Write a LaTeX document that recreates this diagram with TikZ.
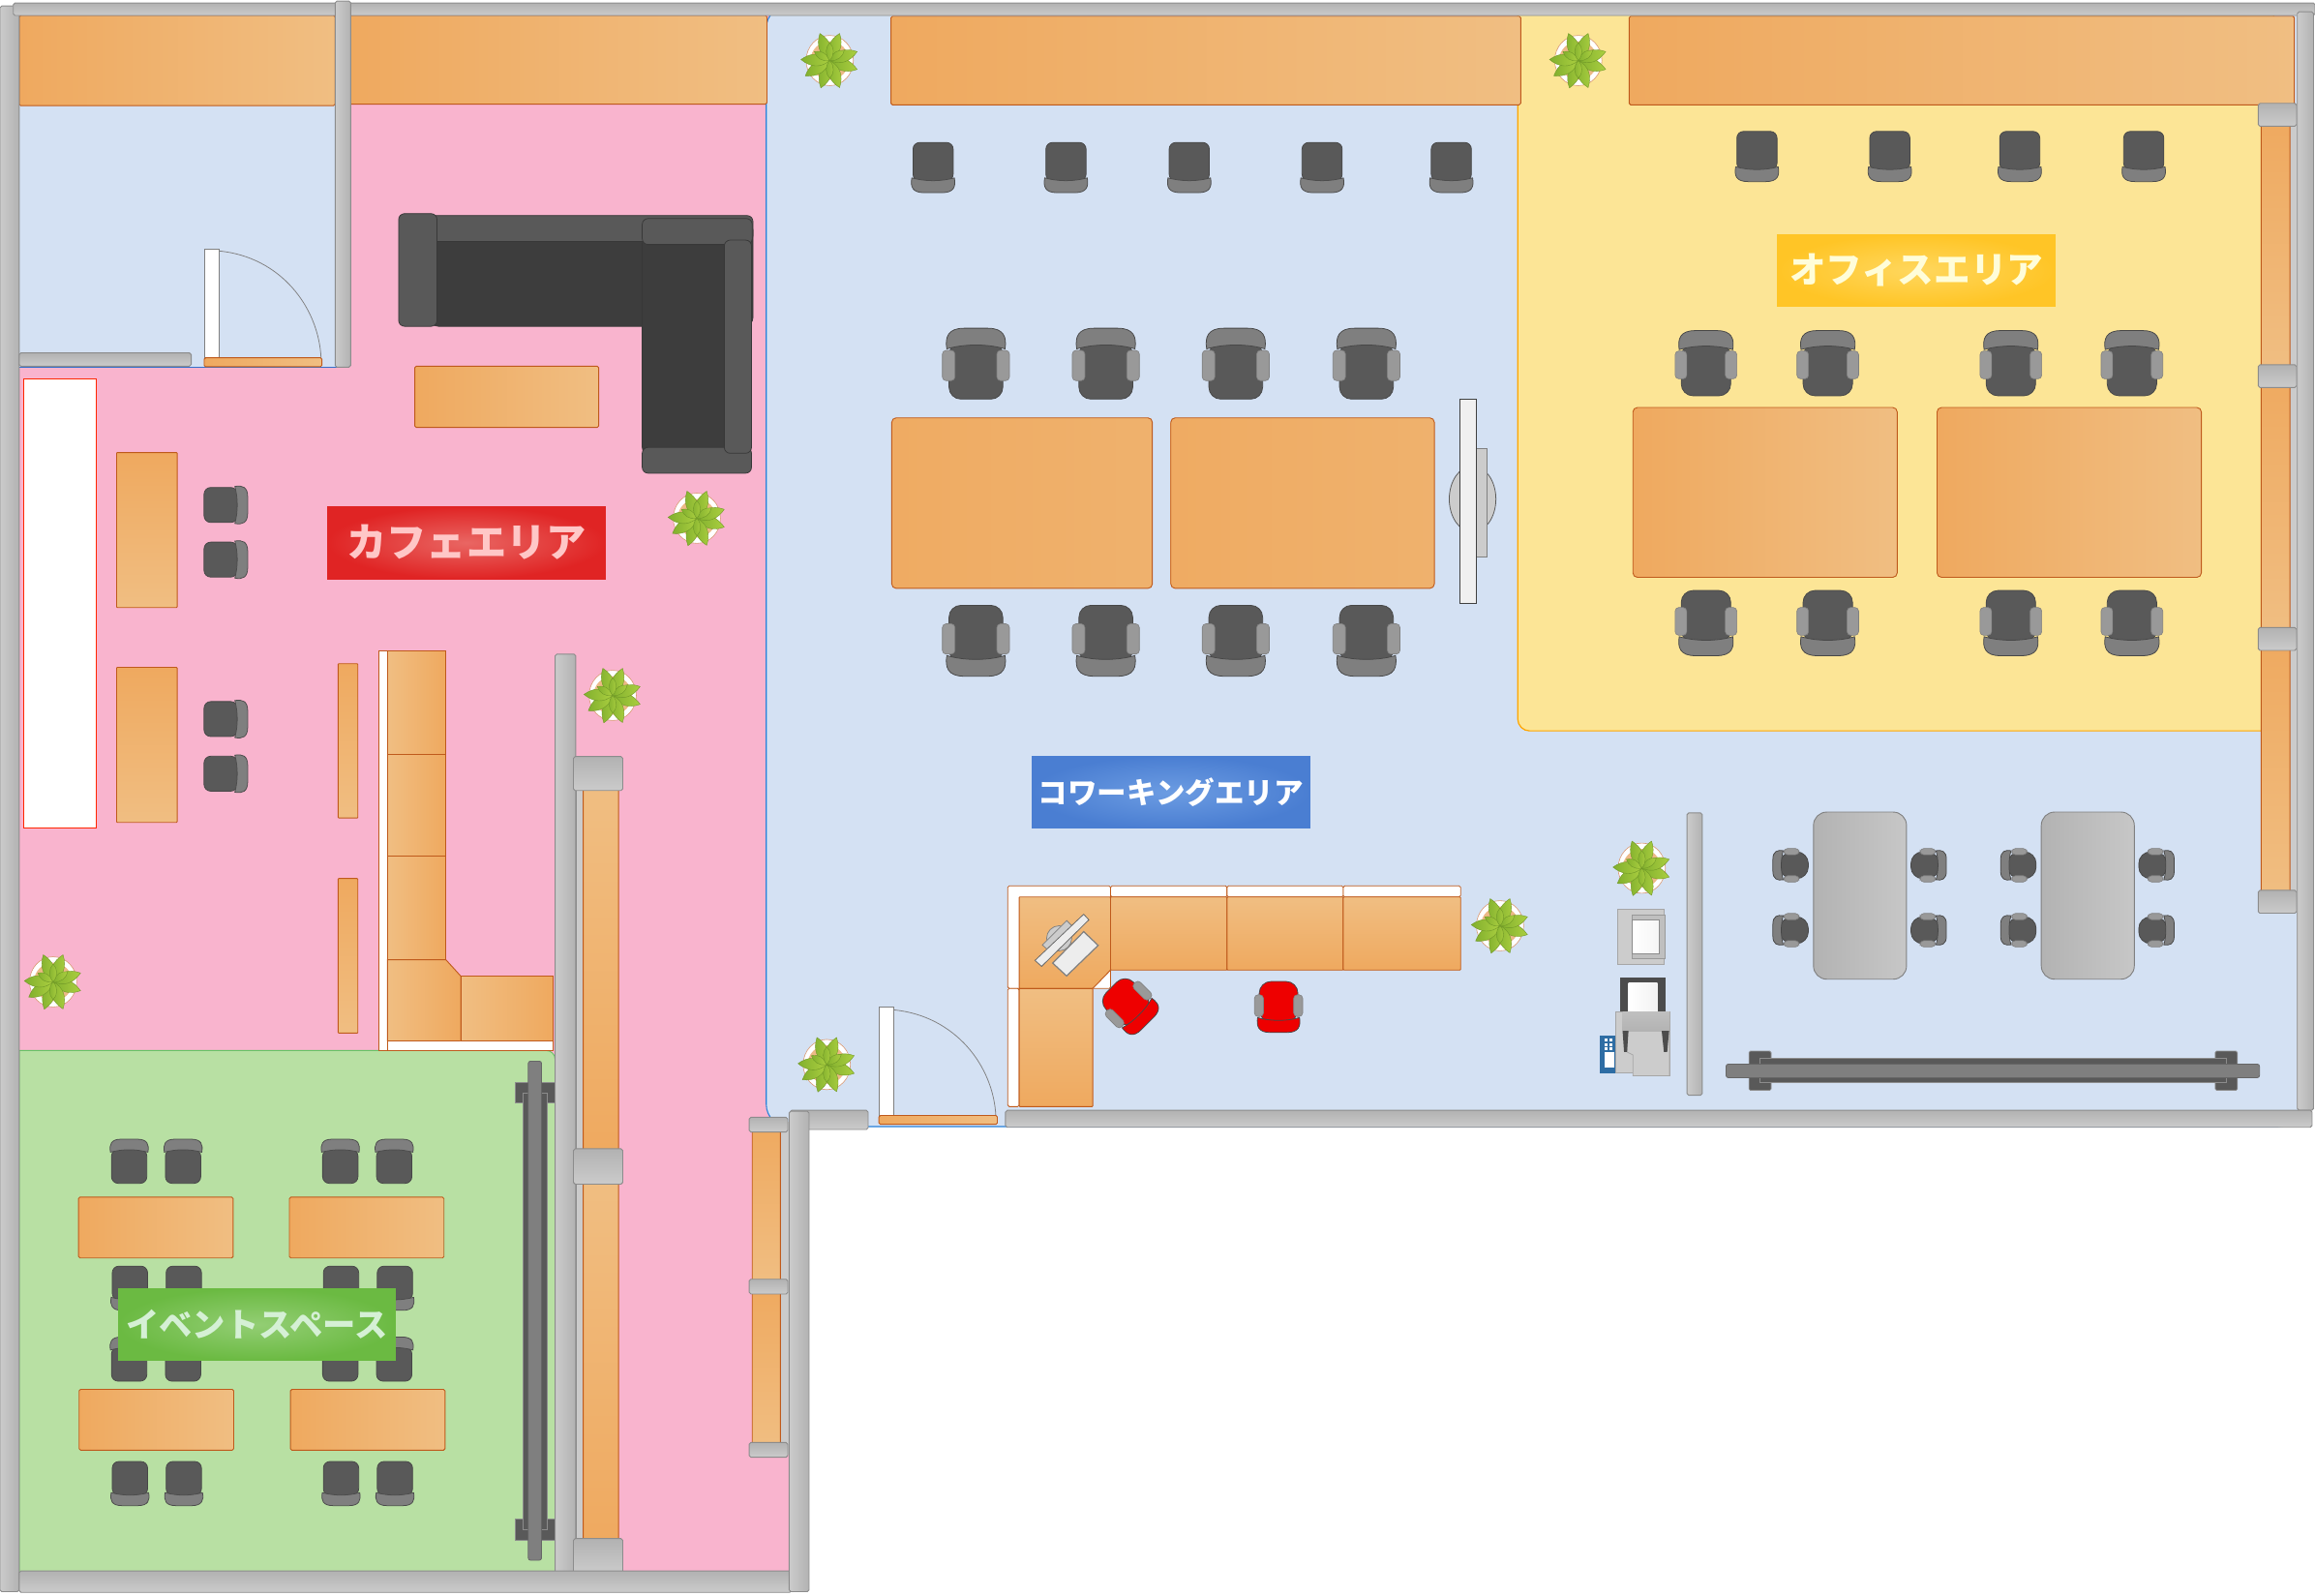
\documentclass[tikz,border=0pt]{standalone}
\usepackage{fontspec}
\newfontfamily\cjk{Noto Sans CJK JP}
\usetikzlibrary{calc}
\definecolor{pinkfloor}{HTML}{F9B4CE}
\definecolor{bluefloor}{HTML}{D4E1F3}
\definecolor{yellowfloor}{HTML}{FCE596}
\definecolor{greenfloor}{HTML}{B8E0A3}
\definecolor{orangedark}{HTML}{EFA95F}
\definecolor{orangelight}{HTML}{F0BE82}
\definecolor{orangeline}{HTML}{BF5A1C}
\definecolor{wallline}{HTML}{8C8C8C}
\definecolor{wallmid}{HTML}{B2B2B2}
\definecolor{wallpale}{HTML}{CBCBCB}
\definecolor{seatdark}{HTML}{595959}
\definecolor{backgray}{HTML}{7F7F7F}
\definecolor{armgray}{HTML}{999999}
\definecolor{sofadark}{HTML}{3D3D3D}
\definecolor{chairred}{HTML}{EE0000}
\definecolor{leafdark}{HTML}{82B02E}
\definecolor{leaflight}{HTML}{ABCF40}
\tikzset{
  wallv/.style={draw=wallline,line width=0.6pt,rounded corners=1.2pt,left color=wallpale,right color=wallmid},
  wallh/.style={draw=wallline,line width=0.6pt,rounded corners=1.2pt,top color=wallmid,bottom color=wallpale},
  woodh/.style={draw=orangeline,line width=0.6pt,rounded corners=1pt,left color=orangedark,right color=orangelight},
  woodr/.style={draw=orangeline,line width=0.6pt,left color=orangelight,right color=orangedark},
  woodv/.style={draw=orangeline,line width=0.6pt,rounded corners=0.5pt,top color=orangedark,bottom color=orangelight},
  woodu/.style={draw=orangeline,line width=0.6pt,rounded corners=0.5pt,top color=orangelight,bottom color=orangedark},
  woodflat/.style={draw=orangeline,line width=0.6pt,rounded corners=3pt,left color=orangedark!90!orangelight,right color=orangedark!60!orangelight},
  strip/.style={draw=orangeline,line width=0.5pt,fill=white},
  labelbox/.style={minimum width=188pt,minimum height=49pt,inner sep=0pt,line width=0.6pt},
  leaf/.style={draw=leafdark!85!black,line width=0.25pt,left color=leafdark,right color=leaflight},
  seat/.style={draw=black!72,line width=0.5pt,fill=seatdark},
  pics/deskchair/.style={code={
    \draw[seat,rounded corners=4.5pt] (-13.6,-17) rectangle (13.6,9);
    \draw[draw=black!70,line width=0.5pt,fill=backgray]
      (-14.4,7) .. controls (-5,9.5) and (5,9.5) .. (14.4,7) .. controls (15.5,13) and (14,17) .. (6,17)
      -- (-6,17) .. controls (-14,17) and (-15.5,13) .. (-14.4,7) -- cycle;
  }},
  pics/armchair/.style 2 args={code={
    \draw[draw=black!72,line width=0.5pt,fill=#1,rounded corners=8pt] (-18.2,-24) rectangle (18.2,14);
    \draw[draw=black!72,line width=0.5pt,fill=#2]
      (-19.7,10) .. controls (-8,13.5) and (8,13.5) .. (19.7,10) .. controls (21,18) and (19,24) .. (8,24)
      -- (-8,24) .. controls (-19,24) and (-21,18) .. (-19.7,10) -- cycle;
    \foreach \s in {-1,1}
      \draw[draw=gray,line width=0.4pt,fill=armgray,rounded corners=2.5pt] (\s*14.2,-11.5) rectangle (\s*22.7,9);
  }},
  pics/armchair/.default={seatdark}{backgray},
  pics/plant/.style={code={
    \draw[draw=brown!60!pink,line width=0.4pt,fill=white] (0,0) ellipse (16 and 17);
    \fill[orange!45!brown!55!white] (0,0) circle (13);
    \foreach \a in {110,70,-18,-70,-108,-148,178,18}
      \draw[leaf,rotate=\a] (0,0) .. controls (6,-5.5) and (13,-5) .. (19.5,0) .. controls (13,5) and (6,5.5) .. (0,0);
    \foreach \a in {150,35,-90,90}
      \draw[leaf,rotate=\a] (0,0) .. controls (4,-3.5) and (9,-3) .. (12,0) .. controls (9,3) and (4,3.5) .. (0,0);
  }},
}
\begin{document}
\begin{tikzpicture}[x=1pt,y=-1pt]
  \useasboundingbox (0,0) rectangle (1568,1080.33);

  % Floors
  \fill[pinkfloor] (237,10) -- (536,10) -- (536,1066) -- (13,1066) -- (13,248) -- (237,248) -- cycle;
  \draw[draw=blue!60!cyan!60!gray,line width=0.6pt,fill=bluefloor] (13,70) rectangle (232,249);
  \draw[draw=blue!50!cyan!70!gray,line width=0.7pt,fill=bluefloor,rounded corners=15pt]
    (1558,4) -- (519,4) -- (519,763) -- (1558,763) [sharp corners] -- cycle;
  \draw[draw=orange!70!yellow,line width=0.8pt,fill=yellowfloor,rounded corners=8pt]
    (1028,5) -- (1028,495) -- (1540,495) [sharp corners] -- (1540,5) -- cycle;
  \draw[draw=green!60!black!60!white,line width=0.6pt,fill=greenfloor,rounded corners=6pt]
    (13,711.5) -- (376,711.5) -- (376,1070) [sharp corners] -- (13,1070) -- cycle;

  % Top counters and wall shelves
  \draw[woodh] (13,10.5) rectangle (227,71.5);
  \draw[woodh] (237,10.5) rectangle (519.5,70.5);
  \draw[woodh] (603.5,11) rectangle (1030,71);
  \draw[woodh] (1103.5,11) rectangle (1554,71);
  \fill[wallpale] (1551,70) rectangle (1556,618);
  \foreach \a/\b in {80/250,250/430,430/610}
    \draw[woodv] (1531.5,\a) rectangle (1551,\b);
  \foreach \y in {70,247,425,603}
    \draw[wallh] (1529.5,\y) rectangle (1555.5,\y+15.5);
  \draw[wallv] (376,443) rectangle (390,1066);
  \draw[draw=wallline,fill=wallpale] (390,520) rectangle (395,1050);
  \draw[woodu] (395,530) rectangle (419,785);
  \draw[woodu] (395,795) rectangle (419,1050);
  \foreach \y/\h in {512.4/23,778/24,1042/23.5}
    \draw[wallh] (388.4,\y) rectangle (421.8,\y+\h);
  \fill[wallpale] (528.6,760) rectangle (534,985);
  \draw[woodv] (509.5,760) rectangle (528.6,870);
  \draw[woodv] (509.5,870) rectangle (528.6,982);
  \foreach \y in {756.7,866.4,977}
    \draw[wallh] (507.4,\y) rectangle (533.6,\y+10);

  % Walls
  \draw[wallv] (0,4) rectangle (13,1078);
  \draw[wallh] (9,2) rectangle (1568,10.5);
  \draw[wallv] (1556,8) rectangle (1567,752);
  \draw[wallv] (227,0.7) rectangle (237.5,248.7);
  \draw[wallh] (13,239) rectangle (129.5,248);
  \draw[wallh] (13,1064) rectangle (536,1078.5);
  \draw[wallh] (535,752) rectangle (588,765);
  \draw[wallh] (681,752) rectangle (1566,763.5);
  \draw[wallv] (534.5,752.6) rectangle (548,1078);

  % Doors
  \draw[draw=gray,line width=0.5pt] (148.5,170) .. controls (190,174) and (216,208) .. (217.5,243);
  \draw[draw=gray,line width=0.6pt,fill=white] (138.5,168.6) rectangle (148.5,243);
  \draw[woodh] (138.3,242.3) rectangle (218,248.4);
  \draw[draw=gray,line width=0.5pt] (605.5,684) .. controls (647,688) and (673,722) .. (674.5,756);
  \draw[draw=gray,line width=0.6pt,fill=white] (595.5,682) rectangle (605.5,756);
  \draw[woodh] (595.3,755.5) rectangle (675.5,761.5);

  % Cafe area
  \draw[draw=red!70!orange,line width=0.5pt,fill=white] (15.7,256.7) rectangle (65.4,560.5);
  \draw[woodv] (79,306.5) rectangle (120,411.5);
  \draw[woodv] (79,452) rectangle (120,557);
  \foreach \y in {342,379,487,524}
    \pic[rotate=90,scale=0.87] at (153,\y) {deskchair};
  \draw[woodh] (281,248) rectangle (405.5,289.5);

  % Sofa
  \draw[seat,draw=black!78,fill=sofadark,rounded corners=6pt] (291,150) rectangle (510,221);
  \draw[seat,draw=black!78,rounded corners=4pt] (291,146) rectangle (510,163.5);
  \draw[seat,draw=black!78,rounded corners=4pt] (270,144.7) rectangle (296,221);
  \draw[seat,draw=black!78,fill=sofadark,rounded corners=5pt] (435,160) rectangle (508,308);
  \draw[seat,draw=black!78,rounded corners=4pt] (435,148) rectangle (509.5,165.6);
  \draw[seat,draw=black!78,rounded corners=4pt] (435,303) rectangle (509,320.5);
  \draw[seat,draw=black!78,rounded corners=4pt] (490.6,162.6) rectangle (509,307);

  % Cafe counter
  \draw[woodv] (229,449.5) rectangle (242.4,554);
  \draw[woodv] (229,595) rectangle (242.4,699.7);
  \draw[strip] (256.3,441) rectangle (262.5,711.3);
  \draw[strip] (262.5,705) rectangle (374.8,711.3);
  \foreach \a/\b in {441/511,511/580,580/650}
    \draw[woodr] (262.5,\a) rectangle (302,\b);
  \draw[woodr] (262.5,650) -- (302,650) -- (312,661) -- (312,705) -- (262.5,705) -- cycle;
  \draw[woodr] (312,661) rectangle (374.8,705);

  % Event space
  \draw[seat,draw=wallline] (349.2,733) rectangle (375.8,747);
  \draw[seat,draw=wallline] (349.2,1028.7) rectangle (375.8,1043);
  \draw[seat,draw=wallline] (354.2,740) rectangle (370.4,1036);
  \draw[draw=black!60,line width=0.5pt,fill=backgray,rounded corners=1.5pt] (357.8,718.7) rectangle (366.8,1056.7);
  \foreach \x/\y in {53.2/810.8,196/810.8,53.6/941,196.7/941}
    \draw[woodh] (\x,\y) rectangle (\x+104.7,\y+41.2);
  \foreach \x in {87.5,124,230.5,267} {
    \pic[rotate=180,scale=0.88] at (\x,786.5) {deskchair};
    \pic[rotate=180,scale=0.88] at (\x,920.5) {deskchair};
    \pic[scale=0.88] at (\x+0.5,872.5) {deskchair};
    \pic[scale=0.88] at (\x+0.5,1004.8) {deskchair};
  }

  % Coworking area
  \foreach \x in {632,722,805.5,895.5,983}
    \pic at (\x,113.5) {deskchair};
  \foreach \x/\w in {604/176.5,793/178.5}
    \draw[woodflat] (\x,283) rectangle (\x+\w,398.5);
  \foreach \x in {661,749,837,925.5} {
    \pic[rotate=180] at (\x,246.3) {armchair};
    \pic at (\x,434) {armchair};
  }

  % Screen on stand
  \draw[draw=black!65,line width=0.5pt,fill=black!20] (997.4,338) ellipse (15.8 and 22.4);
  \draw[draw=gray,line width=0.5pt,fill=black!20] (1000,303.7) rectangle (1007,377);
  \draw[draw=black!75,line width=0.6pt,fill=black!6] (989,270.3) rectangle (1000.2,409);

  % Corner desk
  \draw[strip,rounded corners=1pt] (682.6,600) rectangle (752.2,669.5);
  \draw[strip,rounded corners=1pt] (682.6,669.5) rectangle (690.3,749.5);
  \foreach \a/\b in {752.2/831.1,831.1/909.8,909.8/989.3} {
    \draw[strip,rounded corners=1pt] (\a,600) rectangle (\b,607.5);
    \draw[woodu] (\a,607.5) rectangle (\b,657);
  }
  \draw[woodu] (690.3,607.5) -- (752.2,607.5) -- (752.2,657) -- (740.1,669.5) -- (690.3,669.5) -- cycle;
  \draw[woodu] (690.3,669.5) rectangle (740.1,749.5);
  \draw[draw=gray,line width=0.5pt,fill=black!20] (717.4,635.5) circle (8.5);
  \draw[draw=gray,line width=0.5pt,fill=black!20] (722.5,623.5) -- (727,628) -- (711.5,645) -- (706,640) -- cycle;
  \draw[draw=black!60,line width=0.5pt,fill=black!7] (734,619.2) -- (737.5,623) -- (705.5,654.5) -- (701,650.5) -- cycle;
  \draw[draw=gray,line width=0.8pt,fill=black!7] (734,631) -- (743.8,640.3) -- (722.4,661) -- (713,652.3) -- cycle;
  \pic[rotate=45,scale=0.72] at (765,681) {armchair={chairred}{chairred}};
  \pic[scale=0.72] at (866,682) {armchair={chairred}{chairred}};

  % Plants
  \foreach \x/\y in {562/41,1069/41,472/351,415/471,36/665,560/721,1016/627,1112/588}
    \pic at (\x,\y) {plant};

  % Copier corner
  \draw[draw=black!35,line width=0.6pt,fill=black!20] (1095.6,615.8) rectangle (1127.4,653.4);
  \draw[draw=black!40,line width=0.5pt,fill=black!25] (1105.3,620) rectangle (1127.4,649);
  \draw[draw=black!45,line width=0.5pt,left color=white,right color=black!4] (1105.3,623.2) rectangle (1124,646.2);
  \draw[draw=black!70,fill=black!70] (1097.3,662) rectangle (1127.4,685.5);
  \fill[left color=white,right color=black!5] (1103,665.6) rectangle (1122.7,685.5);
  \definecolor{panelblue}{HTML}{2E6DA4}
  \draw[draw=panelblue,fill=panelblue] (1084,701.7) rectangle (1094.6,726.4);
  \fill[white] (1086.6,712.8) rectangle (1093.3,723.3);
  \foreach \y in {704.5,707.5,710.5}
    \foreach \x in {1087,1090.2}
      \fill[white] (\x,\y-1) rectangle (\x+2,\y+1);
  \draw[draw=black!35,line width=0.5pt,fill=black!20] (1094.6,685.5) -- (1130.8,685.5) -- (1130.8,728.6)
    -- (1106,728.6) -- (1106,726.8) -- (1094.6,726.8) -- cycle;
  \draw[draw=black!35,line width=0.5pt,fill=black!20] (1106,728.6) -- (1106,714.5) -- (1102,712.5) -- (1102,690) -- (1130.8,690) -- (1130.8,728.6) -- cycle;
  \shade[top color=black!25,bottom color=black!30] (1099,685.5) rectangle (1130.8,698.2);
  \fill[black!70] (1099,698.2) -- (1103,698.2) -- (1102,712.5) -- (1100,712.5) -- cycle;
  \fill[black!70] (1125.5,698.2) -- (1130.5,698.2) -- (1129.2,712.5) -- (1127,712.5) -- cycle;
  \draw[wallv] (1142.6,550.6) rectangle (1153,741.8);

  % Meeting tables
  \foreach \x in {1228.3,1382.6} {
    \draw[draw=gray,line width=0.6pt,rounded corners=9pt,left color=black!30,right color=black!22] (\x,550) rectangle (\x+63,663.2);
    \foreach \y in {586,630} {
      \pic[rotate=-90,scale=0.5] at (\x-15.5,\y) {armchair};
      \pic[rotate=90,scale=0.5] at (\x+78,\y) {armchair};
    }
  }

  % Office area
  \foreach \x in {1190,1280,1368,1452}
    \pic at (\x,106) {deskchair};
  \foreach \x in {1106,1312}
    \draw[woodh,rounded corners=3pt] (\x,276) rectangle (\x+179,391);
  \foreach \x in {1155.5,1238,1362,1444} {
    \pic[rotate=180,scale=0.92] at (\x,246) {armchair};
    \pic[scale=0.92] at (\x,422) {armchair};
  }

  % Bench
  \foreach \x in {1184.6,1500.4}
    \draw[seat,draw=wallline,rounded corners=1pt] (\x,711.9) rectangle (\x+15,738.5);
  \draw[seat,draw=wallline] (1192.2,717) rectangle (1508,733);
  \draw[draw=black!60,line width=0.5pt,fill=backgray,rounded corners=1.5pt] (1169.1,720.7) rectangle (1530.4,729.9);

  % Area labels
  \definecolor{cafeedge}{HTML}{E02424}\definecolor{cafemid}{HTML}{E96663}
  \definecolor{officeedge}{HTML}{FFC526}\definecolor{officemid}{HTML}{FFD75E}
  \definecolor{workedge}{HTML}{4A7ED2}\definecolor{workmid}{HTML}{6C9CE2}
  \definecolor{eventedge}{HTML}{6BBA42}\definecolor{eventmid}{HTML}{93CE74}
  \node[labelbox,draw=cafeedge,inner color=cafemid,outer color=cafeedge,
        text=red!22!white,font=\cjk\bfseries\fontsize{27}{30}\selectfont] at (316,367.5) (cafelabel) {カフェエリア};
  \node[labelbox,draw=officeedge,inner color=officemid,outer color=officeedge,
        text=yellow!15!white,font=\cjk\bfseries\fontsize{24.6}{28}\selectfont] at (1298,183.2) (officelabel) {オフィスエリア};
  \node[labelbox,draw=workedge,inner color=workmid,outer color=workedge,
        text=white,font=\cjk\bfseries\fontsize{20}{24}\selectfont] at (793,536.5) (coworklabel) {コワーキングエリア};
  \node[labelbox,draw=eventedge,inner color=eventmid,outer color=eventedge,
        text=green!12!white!88!gray,font=\cjk\bfseries\fontsize{22.5}{26}\selectfont] at (174,897) (eventlabel) {イベントスペース};
\end{tikzpicture}
\end{document}
